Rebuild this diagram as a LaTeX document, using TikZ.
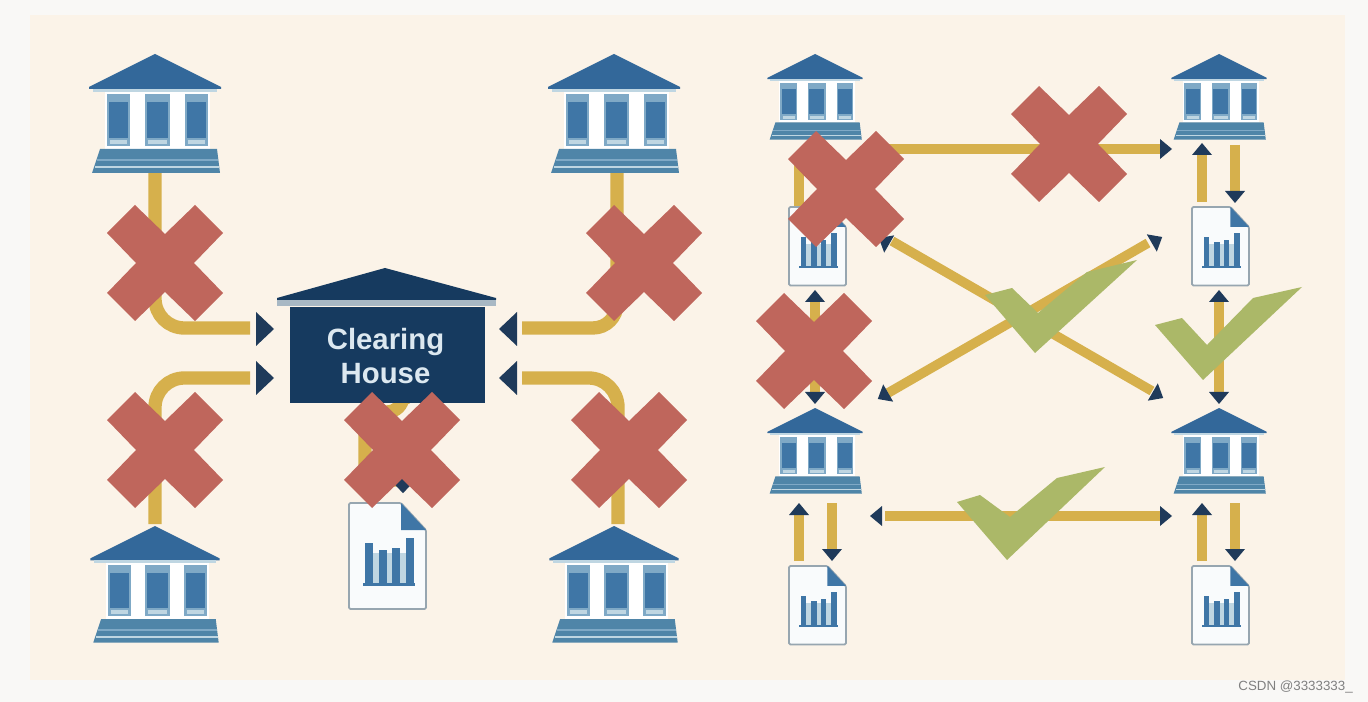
\documentclass[tikz,border=0pt]{standalone}
\usepackage{fontspec}
\setmainfont{Liberation Sans}
\definecolor{pagebg}{HTML}{F9F8F6}
\definecolor{panelbg}{HTML}{FBF3E8}
\definecolor{gold}{HTML}{D6B04C}
\definecolor{tipdark}{HTML}{1F3A5A}
\definecolor{crossred}{HTML}{BF665C}
\definecolor{checkgreen}{HTML}{ABB868}
\definecolor{roofblue}{HTML}{33689A}
\definecolor{colblue}{HTML}{3F76A6}
\definecolor{capblue}{HTML}{7FA9C6}
\definecolor{baseblue}{HTML}{4F85A8}
\definecolor{palelight}{HTML}{BFD6E2}
\definecolor{chnavy}{HTML}{163A5F}
\definecolor{chstrip}{HTML}{A8B8C4}
\definecolor{chtext}{HTML}{DCE8F0}
\tikzset{
  bigink/.style={line width=10pt,draw=gold},
  smallink/.style={line width=7.2pt,draw=gold},
  bank/.pic={
    \fill[white] (-50,36) rectangle (55,95);
    \fill[roofblue] (0,0) -- (66,33) -- (66,35) -- (-66,35) -- (-66,33) -- cycle;
    \fill[palelight] (-62,35) rectangle (62,38);
    \foreach \a/\b in {-48/-25,-10/15,30/53}{
      \fill[capblue] (\a,40) rectangle (\b,92);
      \fill[colblue] (\a+2,48) rectangle (\b-2,84);
      \fill[palelight] (\a+3,86) rectangle (\b-3,90);
    }
    \fill[baseblue] (-55,95) -- (62,95) -- (65,119) -- (-63,119) -- cycle;
    \fill[capblue] (-58,105) rectangle (63,107);
    \fill[palelight] (-60,112.5) rectangle (64,114.5);
  },
  report/.pic={
    \fill[white!70!palelight!30!white,draw=black!10!chstrip,line width=1.3pt,rounded corners=1pt]
      (0,0) -- (52,0) -- (77,27) -- (77,106) -- (0,106) -- cycle;
    \fill[colblue] (52,0) -- (52,27) -- (77,27) -- cycle;
    \fill[palelight] (16,50) rectangle (64,82);
    \foreach \a/\t in {16/40,30/47,43/45,57/35}{
      \fill[colblue] (\a,\t) rectangle (\a+7.5,82);
    }
    \fill[colblue] (14,80) rectangle (66,83);
  },
  redcross/.pic={
    \fill[crossred] (-58,-30) -- (-30,-58) -- (0,-29) -- (30,-58) -- (58,-30) -- (29,0)
      -- (58,30) -- (30,58) -- (0,29) -- (-30,58) -- (-58,30) -- (-29,0) -- cycle;
  },
  tipbig/.pic={\fill[tipdark] (-9,-17) -- (9,0) -- (-9,17) -- cycle;},
  tipsmall/.pic={\fill[tipdark] (-6,-10) -- (6,0) -- (-6,10) -- cycle;},
}
\begin{document}
\begin{tikzpicture}[x=0.75pt,y=-0.75pt]
\useasboundingbox (0,0) rectangle (1368,702);
\fill[pagebg] (0,0) rectangle (1368,702);
\fill[panelbg] (30,15) rectangle (1345,680);

% connector end points, left panel
\coordinate (bankTL) at (155,172);
\coordinate (bankBL) at (155,524);
\coordinate (bankTR) at (617,172);
\coordinate (bankBR) at (618,524);
\coordinate (inTL) at (250,328);
\coordinate (inBL) at (250,378);
\coordinate (inTR) at (522,328);
\coordinate (inBR) at (522,378);
\coordinate (chBottom) at (403,404);
\coordinate (chBend) at (365,450);
\coordinate (reportIn) at (403,480);

\draw[bigink,rounded corners=22pt] (bankTL) |- (inTL);
\draw[bigink,rounded corners=22pt] (bankBL) |- (inBL);
\draw[bigink,rounded corners=18pt] (bankTR) |- (inTR);
\draw[bigink,rounded corners=22pt] (bankBR) |- (inBR);
\draw[bigink,rounded corners=12pt] (chBottom) -- (403,412) -| (chBend) |- (reportIn);

\pic at (265,329) {tipbig};
\pic at (265,378) {tipbig};
\pic[rotate=180] at (508,329) {tipbig};
\pic[rotate=180] at (508,378) {tipbig};
\pic[rotate=-90,scale=.8] at (403,486) {tipbig};

\pic at (155,54) {bank};
\pic at (614,54) {bank};
\pic[scale=.98] at (155,526) {bank};
\pic[scale=.98] at (614,526) {bank};

% clearing house
\fill[chnavy] (385,268) -- (496,298) -- (496,300) -- (277,300) -- (277,298) -- cycle;
\fill[chstrip] (277,300) rectangle (496,306);
\node[fill=chnavy,minimum width=146.25pt,minimum height=72pt,inner sep=0pt] (clearing) at (387.5,355) {};
\node[text=chtext,font=\bfseries\fontsize{22}{25.5}\selectfont,align=center,inner sep=0pt] (clearingtext) at (385.5,356)
      {Clearing\\House};
\pic at (349,503) {report};

% connector end points, right panel
\coordinate (topH1) at (880,149);
\coordinate (topH2) at (1160,149);
\coordinate (leftV1) at (799,160);
\coordinate (leftV2) at (799,210);
\coordinate (trUp1) at (1202,202);
\coordinate (trUp2) at (1202,155);
\coordinate (trDn1) at (1235,145);
\coordinate (trDn2) at (1235,191);
\coordinate (rmA) at (1219,302);
\coordinate (rmB) at (1219,392);
\coordinate (lmA) at (815,302);
\coordinate (lmB) at (815,392);
\coordinate (dgA1) at (892,241);
\coordinate (dgA2) at (1152,391);
\coordinate (dgB1) at (888,393);
\coordinate (dgB2) at (1148,243);
\coordinate (botH1) at (885,516);
\coordinate (botH2) at (1160,516);
\coordinate (blUp1) at (799,561);
\coordinate (blUp2) at (799,515);
\coordinate (blDn1) at (832,503);
\coordinate (blDn2) at (832,549);
\coordinate (brUp1) at (1202,561);
\coordinate (brUp2) at (1202,515);
\coordinate (brDn1) at (1235,503);
\coordinate (brDn2) at (1235,549);

\foreach \a/\b in {topH1/topH2,leftV1/leftV2,trUp1/trUp2,trDn1/trDn2,rmA/rmB,lmA/lmB,
                   dgA1/dgA2,dgB1/dgB2,botH1/botH2,blUp1/blUp2,blDn1/blDn2,brUp1/brUp2,brDn1/brDn2}
  \draw[smallink] (\a) -- (\b);

\pic at (1166,149) {tipsmall};
\pic[rotate=90] at (1202,149) {tipsmall};
\pic[rotate=-90] at (1235,197) {tipsmall};
\pic[rotate=90] at (1219,296) {tipsmall};
\pic[rotate=-90] at (1219,398) {tipsmall};
\pic[rotate=90] at (815,296) {tipsmall};
\pic[rotate=-90] at (815,398) {tipsmall};
\pic[rotate=150] at (884,241) {tipsmall};
\pic[rotate=-30] at (1158,395) {tipsmall};
\pic[rotate=30] at (1157,240) {tipsmall};
\pic[rotate=210] at (883,396) {tipsmall};
\pic[rotate=180] at (876,516) {tipsmall};
\pic at (1166,516) {tipsmall};
\pic[rotate=90] at (799,509) {tipsmall};
\pic[rotate=-90] at (832,555) {tipsmall};
\pic[rotate=90] at (1202,509) {tipsmall};
\pic[rotate=-90] at (1235,555) {tipsmall};

\pic[scale=.72] at (815,54) {bank};
\pic[scale=.72] at (1219,54) {bank};
\pic[scale=.72] at (815,408) {bank};
\pic[scale=.72] at (1219,408) {bank};

\pic[scale=.74] at (789,207) {report};
\pic[scale=.74] at (1192,207) {report};
\pic[scale=.74] at (789,566) {report};
\pic[scale=.74] at (1192,566) {report};

% verdict marks
\foreach \p in {{165,263},{644,263},{165,450},{402,450},{629,450},{846,189},{1069,144},{814,351}}
  \pic at (\p) {redcross};
\fill[checkgreen] (985,295) -- (1012,288) -- (1038,313) -- (1087,272) -- (1137,260) -- (1035,353) -- cycle;
\fill[checkgreen] (1155,325) -- (1182,318) -- (1207,345) -- (1253,298) -- (1302,287) -- (1203,380) -- cycle;
\fill[checkgreen] (957,502) -- (980,495) -- (1010,517) -- (1057,478) -- (1105,467) -- (1007,560) -- cycle;

\node[text=black!50,font=\fontsize{10}{12}\selectfont,anchor=east,inner sep=0pt] (mark) at (1353,686.5) {CSDN @3333333\_};
\end{tikzpicture}
\end{document}
